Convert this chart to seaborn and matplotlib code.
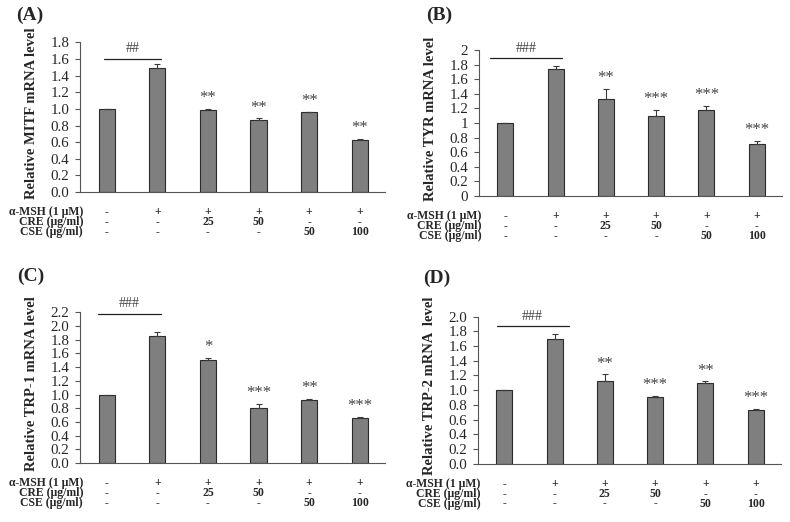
import numpy as np
import pandas as pd
import matplotlib
matplotlib.use("Agg")
from matplotlib import pyplot as plt
import seaborn as sns

# treatment groups
groups = ["ctrl", "msh", "cre25", "cre50", "cse50", "cse100"]
msh_row = ["-", "+", "+", "+", "+", "+"]
cre_row = ["-", "-", "25", "50", "-", "-"]
cse_row = ["-", "-", "-", "-", "50", "100"]
row_names = ["\u03b1-MSH (1 \u03bcM)", "CRE (\u03bcg/ml)", "CSE (\u03bcg/ml)"]

# (A) MITF
mitf = [1.00, 1.49, 0.985, 0.865, 0.96, 0.625]
mitf_err = [0.0, 0.05, 0.012, 0.02, 0.008, 0.013]
mitf_sig = ["", "", "**", "**", "**", "**"]

# (B) TYR
tyr = [1.00, 1.735, 1.33, 1.09, 1.185, 0.715]
tyr_err = [0.0, 0.05, 0.135, 0.095, 0.05, 0.04]
tyr_sig = ["", "", "**", "***", "***", "***"]

# (C) TRP-1
trp1 = [1.00, 1.86, 1.50, 0.80, 0.925, 0.655]
trp1_err = [0.0, 0.05, 0.03, 0.065, 0.015, 0.02]
trp1_sig = ["", "", "*", "***", "**", "***"]

# (D) TRP-2
trp2 = [1.00, 1.70, 1.13, 0.905, 1.095, 0.725]
trp2_err = [0.0, 0.06, 0.085, 0.015, 0.025, 0.02]
trp2_sig = ["", "", "**", "***", "**", "***"]

sns.set_style("ticks")
plt.rcParams["font.family"] = ["Liberation Serif", "DejaVu Serif"]

fig = plt.figure(figsize=(7.9, 5.22), dpi=100)

panels = [
    ("(A)", "Relative MITF mRNA level", mitf, mitf_err, mitf_sig, 1.8, "%.1f", "##",
     [0.1013, 0.632, 0.386, 0.287], (-0.06, 1.08, 1.60), (0.02, 0.988)),
    ("(B)", "Relative TYR mRNA level", tyr, tyr_err, tyr_sig, 2.0, "%g", "###",
     [0.606, 0.6245, 0.3835, 0.2797], (-0.3, 1.12, 1.886), (0.54, 0.988)),
    ("(C)", "Relative TRP-1 mRNA level", trp1, trp1_err, trp1_sig, 2.2, "%.1f", "###",
     [0.1013, 0.113, 0.386, 0.2887], (-0.18, 1.08, 2.18), (0.022, 0.488)),
    ("(D)", "Relative TRP-2 mRNA  level", trp2, trp2_err, trp2_sig, 2.0, "%.1f", "###",
     [0.6047, 0.1117, 0.3835, 0.2816], (-0.15, 1.28, 1.87), (0.535, 0.484)),
]

for label, ylab, vals, errs, sig, ymax, fmt, hashes, pos, line, lpos in panels:
    ax = fig.add_axes(pos)
    df = pd.DataFrame({"group": groups, "value": vals})
    sns.barplot(data=df, x="group", y="value", color="#7f7f7f", width=0.32,
                edgecolor="#2b2b2b", linewidth=0.8, saturation=1, ax=ax)
    ax.errorbar(np.arange(len(vals)), vals, yerr=[np.zeros(len(errs)), errs],
                fmt="none", ecolor="#3a3a3a", elinewidth=0.8, capsize=2.5, capthick=0.8)
    ax.set_xlim(-0.53, 5.5)
    ax.set_ylim(0, ymax)
    ticks = np.arange(0, ymax + 0.001, 0.2)
    ax.set_yticks(ticks)
    ax.set_yticklabels([fmt % t for t in ticks])
    ax.tick_params(axis="y", labelsize=10.8, length=3.5, width=0.8, color="#555555", pad=4)
    ax.tick_params(axis="x", bottom=False, labelbottom=False)
    ax.set_xlabel("")
    ax.set_ylabel(ylab, fontsize=10.5, fontweight="bold")
    ax.yaxis.set_label_coords(-0.137, 0.53)
    for s in ["top", "right"]:
        ax.spines[s].set_visible(False)
    for s in ["left", "bottom"]:
        ax.spines[s].set_color("#555555")
        ax.spines[s].set_linewidth(0.8)

    # significance markers
    for i, s in enumerate(sig):
        if s:
            ax.annotate(s, xy=(i, vals[i] + errs[i]), xytext=(0, 2), textcoords="offset points",
                        ha="center", va="bottom", fontsize=12, color="#444444")
    x0, x1, yl = line
    ax.plot([x0, x1], [yl, yl], color="#222222", lw=0.9)
    ax.text((x0 + x1) / 2, yl + ymax * 0.025, hashes, ha="center", va="bottom",
            fontsize=10, color="#444444")

    # treatment table, one text block per column
    ax.annotate("\n".join(row_names), xy=(0, 0), xycoords="axes fraction", xytext=(3, -30),
                textcoords="offset pixels", ha="right", va="center", multialignment="right",
                fontsize=8.5, fontweight="bold", linespacing=0.76)
    for i in range(len(groups)):
        col = "\n".join([msh_row[i], cre_row[i], cse_row[i]])
        ax.annotate(col, xy=(i, 0), xycoords=("data", "axes fraction"), xytext=(0, -30),
                    textcoords="offset pixels", ha="center", va="center",
                    multialignment="center", fontsize=8.5, fontweight="bold", linespacing=0.76)

    fig.text(lpos[0], lpos[1], label, ha="left", va="top", fontsize=14, fontweight="bold")

plt.savefig("out.png", dpi=100)
